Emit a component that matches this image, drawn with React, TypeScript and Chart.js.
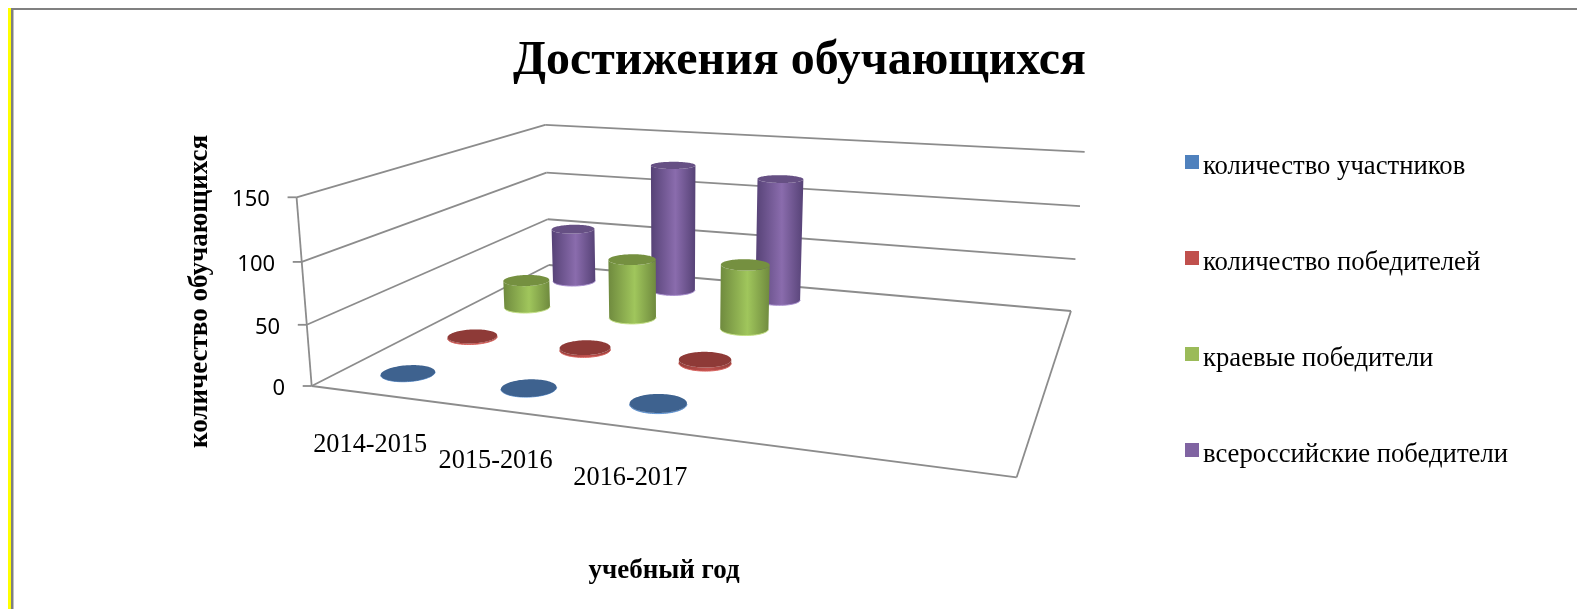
import React, { useEffect, useRef } from "react";
import { Chart, BarController, BarElement, CategoryScale, LinearScale, Title } from "chart.js";

const chartTitle = "Достижения обучающихся";
const yTitle = "количество обучающихся";
const xTitle = "учебный год";
// the source axis reserves five category slots, only three of them are labelled
const categories = ["2014-2015", "2015-2016", "2016-2017", "", ""];
const seriesNames = ["количество участников", "количество победителей", "краевые победители", "всероссийские победители"];
const participants = [0, 0, 0.5];
const winners = [1, 2, 3];
const regionalWinners = [26, 55, 59];
const nationalWinners = [54, 125, 118];
const yTicksMax = 150;
const yTicksStep = 50;

const SERIF = '"Liberation Serif"';
const GRID = "#8c8c8c";

const palette = [
  { legend: "#4f81bd", edge: "#3c628f", mid: "#4a78ae", cap: "#3e628f", rim: "#5f95d6" },
  { legend: "#c0504d", edge: "#96403c", mid: "#c0504d", cap: "#8e3a37", rim: "#d8605b" },
  { legend: "#9bbb59", edge: "#6f8a3e", mid: "#a0c65c", cap: "#759040", rim: "#c4e184" },
  { legend: "#8064a2", edge: "#564276", mid: "#8a6cad", cap: "#665084", rim: "#a98fd0" },
];

// Camera of the 3-D box: u along categories, v into depth, z up the value axis (all 0..1)
function project(u: number, v: number, z: number) {
  const w = -0.17052 * u + 0.36831 * v + 1 - 0.04 * z;
  return {
    x: (531.6 * u + 439.5 * v + 311.7 - 27 * z) / w,
    y: (9.91 * u - 23.4 * v + 386 - 196.6 * z) / w,
  };
}

const RADIUS_U = 0.04;
const RADIUS_V = 0.05;
const SERIES_SLOTS = 4;

class CylinderController extends BarController {
  static id = "cylinder3d";
  static defaults = BarController.defaults;
  static overrides = BarController.overrides;

  updateElements(bars: any[], start: number, count: number, mode: any) {
    const { xScale, yScale } = this._cachedMeta as any;
    for (let i = start; i < start + count; i++) {
      const parsed: any = this.getParsed(i);
      const props = {
        x: xScale.getPixelForValue(i),
        y: yScale.getPixelForValue(parsed.y),
        base: yScale.getPixelForValue(0),
        width: 10,
        height: 0,
        horizontal: false,
        options: this.resolveDataElementOptions(i, mode),
      };
      this.updateElement(bars[i], i, props, mode);
    }
  }

  draw() {
    const ctx = this.chart.ctx;
    const meta: any = this._cachedMeta;
    const { xScale, yScale } = meta;
    const look = palette[this.index];
    const v = (this.index + 0.5) / SERIES_SLOTS;
    meta.data.forEach((el: any) => {
      const u = (el.x - xScale.left) / xScale.width;
      const z = (yScale.bottom - el.y) / (yScale.bottom - yScale.top);
      const ring = (h: number) => {
        const pts = [];
        for (let k = 0; k < 96; k++) {
          const t = (k / 96) * Math.PI * 2;
          pts.push(project(u + RADIUS_U * Math.cos(t), v + RADIUS_V * Math.sin(t), h));
        }
        return pts;
      };
      const low = ring(0);
      const top = ring(z);
      // the half of a ring facing the viewer, from its rightmost to its leftmost point
      const frontArc = (pts: any[]) => {
        let l = 0, r = 0;
        pts.forEach((p, k) => {
          if (p.x < pts[l].x) l = k;
          if (p.x > pts[r].x) r = k;
        });
        const walk = (step: number) => {
          const arc = [];
          let k = r;
          for (let guard = 0; guard < 97; guard++) {
            arc.push(pts[k]);
            if (k === l) break;
            k = (k + step + pts.length) % pts.length;
          }
          return arc;
        };
        const mean = (a: any[]) => a.reduce((s, p) => s + p.y, 0) / a.length;
        const a = walk(1);
        const b = walk(-1);
        return mean(a) > mean(b) ? a : b;
      };
      const lowArc = frontArc(low);
      const topArc = frontArc(top);
      const xl = Math.min(lowArc[lowArc.length - 1].x, topArc[topArc.length - 1].x);
      const xr = Math.max(lowArc[0].x, topArc[0].x);
      const g = ctx.createLinearGradient(xl, 0, xr, 0);
      g.addColorStop(0, look.edge);
      g.addColorStop(0.55, look.mid);
      g.addColorStop(1, look.edge);
      ctx.save();
      ctx.beginPath();
      lowArc.forEach((p: any, k: number) => (k ? ctx.lineTo(p.x, p.y) : ctx.moveTo(p.x, p.y)));
      [...topArc].reverse().forEach((p: any) => ctx.lineTo(p.x, p.y));
      ctx.closePath();
      ctx.fillStyle = g;
      ctx.fill();
      ctx.beginPath();
      lowArc.forEach((p: any, k: number) => (k ? ctx.lineTo(p.x, p.y) : ctx.moveTo(p.x, p.y)));
      ctx.strokeStyle = look.rim;
      ctx.lineWidth = 1;
      ctx.stroke();
      ctx.beginPath();
      top.forEach((p: any, k: number) => (k ? ctx.lineTo(p.x, p.y) : ctx.moveTo(p.x, p.y)));
      ctx.closePath();
      ctx.fillStyle = look.cap;
      ctx.fill();
      ctx.restore();
    });
  }
}

const box3d = {
  id: "box3d",
  beforeDraw(chart: any) {
    const c = chart.ctx;
    c.save();
    c.fillStyle = "#ffffff";
    c.fillRect(0, 0, chart.width, chart.height);
    c.restore();
  },
  beforeDatasetsDraw(chart: any) {
    const c = chart.ctx;
    const yS = chart.scales.y;
    const seg = (a: any, b: any) => {
      c.beginPath();
      c.moveTo(a.x, a.y);
      c.lineTo(b.x, b.y);
      c.stroke();
    };
    c.save();
    c.strokeStyle = GRID;
    c.lineWidth = 1.8;
    yS.ticks.forEach((tick: any) => {
      const z = (yS.bottom - yS.getPixelForValue(tick.value)) / (yS.bottom - yS.top);
      const a = project(0, 0, z);
      seg({ x: a.x - 9, y: a.y }, a);
      seg(a, project(0, 1, z));
      seg(project(0, 1, z), project(1, 1, z));
    });
    seg(project(0, 0, 0), project(0, 0, 1));
    seg(project(0, 0, 0), project(1, 0, 0));
    seg(project(1, 0, 0), project(1, 1, 0));
    c.restore();
  },
  afterDraw(chart: any) {
    const c = chart.ctx;
    const yS = chart.scales.y;
    const xS = chart.scales.x;
    c.save();
    c.fillStyle = "#000000";
    c.textAlign = "right";
    c.textBaseline = "middle";
    c.font = '22px "Noto Sans"';
    yS.ticks.forEach((tick: any) => {
      const z = (yS.bottom - yS.getPixelForValue(tick.value)) / (yS.bottom - yS.top);
      const a = project(0, 0, z);
      c.fillText(String(tick.value), a.x - 26.7, a.y + 2.5);
    });
    c.textAlign = "center";
    c.font = `26.3px ${SERIF}`;
    chart.data.labels.forEach((label: string, i: number) => {
      if (!label) return;
      const u = (xS.getPixelForValue(i) - xS.left) / xS.width;
      const a = project(u, 0, 0);
      c.fillText(label, a.x - 1, a.y + 51);
    });
    c.textAlign = "left";
    c.textBaseline = "alphabetic";
    c.font = `26.7px ${SERIF}`;
    chart.data.datasets.forEach((ds: any, i: number) => {
      c.fillStyle = palette[i].legend;
      c.fillRect(1185, 155 + 96 * i, 14, 14);
      c.fillStyle = "#000000";
      c.fillText(ds.label, 1203, 173.5 + 96 * i);
    });
    c.restore();
  },
};

Chart.register(CylinderController, BarElement, CategoryScale, LinearScale, Title, box3d);

const allValues = [participants, winners, regionalWinners, nationalWinners];

const bar = (left: number, top: number, width: number | string, height: number | string, background: string) => (
  <div style={{ position: "absolute", left, top, width, height, background }} />
);

export default function App() {
  const ref = useRef<HTMLCanvasElement>(null);
  useEffect(() => {
    if (!ref.current) return;
    const chart = new Chart(ref.current, {
      type: "cylinder3d" as any,
      data: {
        labels: categories,
        datasets: allValues.map((data, i) => ({
          label: seriesNames[i],
          data,
          backgroundColor: palette[i].legend,
          clip: false as any,
        })),
      },
      options: {
        responsive: false,
        animation: false,
        events: [],
        layout: { padding: { left: 22, right: 0, top: 0, bottom: 0 } },
        plugins: {
          title: {
            display: true,
            text: chartTitle,
            color: "#000000",
            font: { family: SERIF, size: 47.9, weight: "bold" },
            padding: { top: 33, bottom: 106.5 },
          },
          legend: { display: false },
          tooltip: { enabled: false },
        },
        scales: {
          x: {
            type: "category",
            offset: true,
            grid: { display: false },
            border: { display: false },
            ticks: { display: false, autoSkip: false },
            afterFit: (s: any) => { s.height = 223; },
            title: {
              display: true,
              text: xTitle,
              color: "#000000",
              font: { family: SERIF, size: 27, weight: "bold" },
              padding: { top: 0, bottom: 22 },
            },
          },
          y: {
            type: "linear",
            min: 0,
            max: yTicksMax,
            grid: { display: false },
            border: { display: false },
            ticks: { display: false, stepSize: yTicksStep },
            afterFit: (s: any) => { s.width = 275; },
            title: {
              display: true,
              text: yTitle,
              color: "#000000",
              font: { family: SERIF, size: 27, weight: "bold" },
              padding: { top: 161.8, bottom: 0 },
            },
          },
          yRight: {
            type: "linear",
            position: "right",
            grid: { display: false },
            border: { display: false },
            ticks: { display: false },
            afterFit: (s: any) => { s.width = 546; },
          },
        },
      } as any,
    });
    return () => chart.destroy();
  }, []);
  return (
    <div style={{ position: "fixed", left: 0, top: 0, width: 1577, height: 609, background: "#fff", overflow: "hidden" }}>
      <canvas ref={ref} width={1577} height={609} style={{ display: "block", filter: "blur(0.5px)" }} />
      {bar(8, 8, 3, 601, "#ffff00")}
      {bar(11, 8, 2, 601, "#808080")}
      {bar(13, 10, 1, 599, "#c0c0c0")}
      {bar(11, 8, 1566, 2, "#808080")}
    </div>
  );
}
